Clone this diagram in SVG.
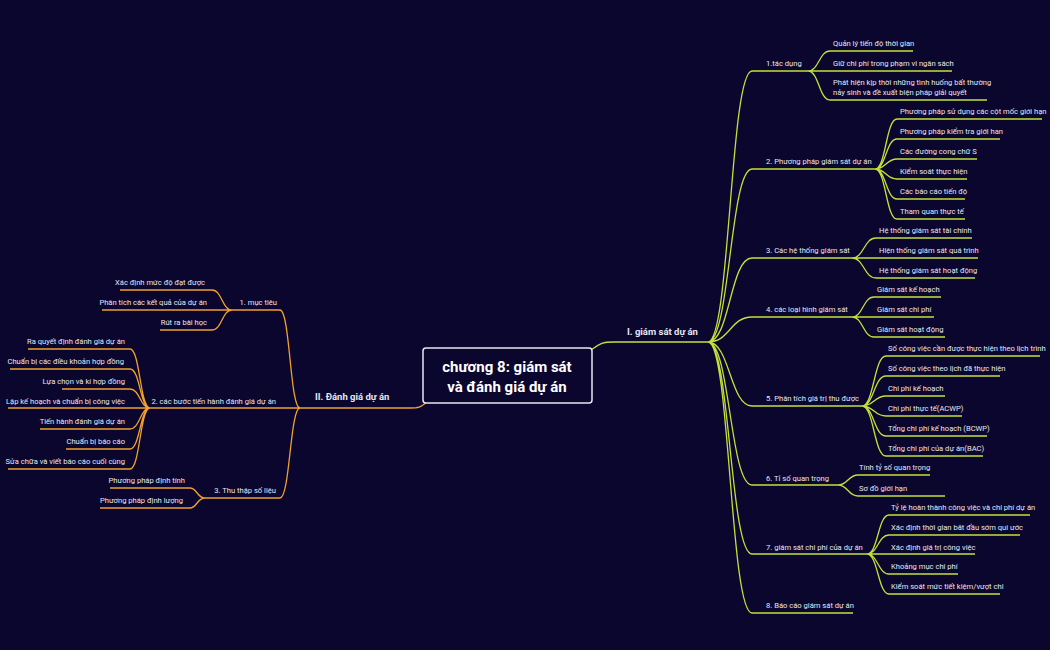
<svg xmlns="http://www.w3.org/2000/svg" width="1050" height="650" viewBox="0 0 1050 650">
<style>
text{font-family:Roboto,"Liberation Sans",sans-serif;fill:#e6e6f0;font-size:7.6px}
.r{fill:none;stroke:#c3e03a;stroke-width:1.3}
.l{fill:none;stroke:#f0a12e;stroke-width:1.3}
.e{text-anchor:end}
.m{font-size:9.5px;font-weight:bold}
</style>
<rect width="1050" height="650" fill="#0b062e"/>
<g id="connectors">
<path class="r" d="M588 352 C600 344 600 342 614 342 H708"/>
<path class="r" d="M708 342 C730 342 730 71 752 71 H808 M708 342 C730 342 730 169 752 169 H875 M708 342 C730 342 730 258 752 258 H852 M708 342 C730 342 730 317 752 317 H852 M708 342 C730 342 730 406 752 406 H862 M708 342 C730 342 730 485 752 485 H838 M708 342 C730 342 730 554 752 554 H867 M708 342 C730 342 730 613 752 613 H853"/>
<path class="r" d="M808 71 C819 71 819 51 830 51 H913 M808 71 H952 M808 71 C819 71 819 100 830 100 H987"/>
<path class="r" d="M875 169 C886 169 886 119 897 119 H1042 M875 169 C886 169 886 139 897 139 H1000 M875 169 C886 169 886 159 897 159 H977 M875 169 C886 169 886 179 897 179 H967 M875 169 C886 169 886 199 897 199 H965 M875 169 C886 169 886 219 897 219 H965"/>
<path class="r" d="M852 258 C864 258 864 238 876 238 H972 M852 258 H978 M852 258 C864 258 864 278 876 278 H975"/>
<path class="r" d="M852 317 C863 317 863 297 874 297 H941 M852 317 H934 M852 317 C863 317 863 337 874 337 H945"/>
<path class="r" d="M862 406 C874 406 874 356 886 356 H1040 M862 406 C874 406 874 376 886 376 H1000 M862 406 C874 406 874 396 886 396 H945 M862 406 C874 406 874 416 886 416 H962 M862 406 C874 406 874 436 886 436 H987 M862 406 C874 406 874 456 886 456 H983"/>
<path class="r" d="M838 485 C848 485 848 475 858 475 H930 M838 485 C848 485 848 496 858 496 H945"/>
<path class="r" d="M867 554 C878 554 878 515 889 515 H1030 M867 554 C878 554 878 535 889 535 H1020 M867 554 H975 M867 554 C878 554 878 574 889 574 H958 M867 554 C878 554 878 594 889 594 H1000"/>
<path class="l" d="M428 401 C420 408 418 408 410 408 H300"/>
<path class="l" d="M300 408 C290 408 290 310 280 310 H232 M300 408 H150 M300 408 C290 408 290 498 280 498 H205"/>
<path class="l" d="M232 310 C222 310 222 290 212 290 H120 M232 310 H102 M232 310 C222 310 222 330 212 330 H160"/>
<path class="l" d="M150 408 C140 408 140 349 130 349 H28 M150 408 C140 408 140 369 130 369 H10 M150 408 C140 408 140 389 130 389 H62 M150 408 H8 M150 408 C140 408 140 429 130 429 H40 M150 408 C140 408 140 449 130 449 H66 M150 408 C140 408 140 469 130 469 H8"/>
<path class="l" d="M205 498 C197 498 197 488 190 488 H110 M205 498 C197 498 197 508 190 508 H100"/>
</g>
<g id="center"><rect x="423" y="348" width="169" height="55" rx="3" fill="#0b062e" stroke="#e8e8f0" stroke-width="1.5"/>
<text x="507" y="372" text-anchor="middle" style="font-size:15px;font-weight:bold;fill:#fff">chương 8: giám sát</text>
<text x="507" y="392" text-anchor="middle" style="font-size:15px;font-weight:bold;fill:#fff">và đánh giá dự án</text></g>
<g id="n-I"><text class="m" x="627" y="335">I. giám sát dự án</text></g>
<g id="n-II"><text class="m" x="315" y="400">II. Đánh giá dự án</text></g>
<g id="right">
<text x="766" y="66">1.tác dụng</text>
<text x="833" y="46">Quản lý tiến độ thời gian</text>
<text x="833" y="66">Giữ chi phí trong phạm vi ngân sách</text>
<text x="833" y="85">Phát hiện kịp thời những tình huống bất thường</text>
<text x="833" y="95">nảy sinh và đề xuất biện pháp giải quyết</text>
<text x="766" y="164">2. Phương pháp giám sát dự án</text>
<text x="900" y="114">Phương pháp sử dụng các cột mốc giới hạn</text>
<text x="900" y="134">Phương pháp kiểm tra giới han</text>
<text x="900" y="154">Các đường cong chữ S</text>
<text x="900" y="174">Kiểm soát thực hiện</text>
<text x="900" y="194">Các báo cáo tiến độ</text>
<text x="900" y="214">Tham quan thực tế</text>
<text x="766" y="253">3. Các hệ thống giám sát</text>
<text x="879" y="233">Hệ thống giám sát tài chính</text>
<text x="879" y="253">Hiện thống giám sát quá trình</text>
<text x="879" y="273">Hệ thống giám sát hoạt động</text>
<text x="766" y="312">4. các loại hình giám sát</text>
<text x="877" y="292">Giám sát kế hoạch</text>
<text x="877" y="312">Giám sát chi phí</text>
<text x="877" y="332">Giám sát hoạt động</text>
<text x="766" y="401">5. Phân tích giá trị thu được</text>
<text x="888" y="351">Số công việc cần được thực hiện theo lịch trình</text>
<text x="888" y="371">Số công việc theo lịch đã thực hiện</text>
<text x="888" y="391">Chi phí kế hoạch</text>
<text x="888" y="411">Chi phí thực tế(ACWP)</text>
<text x="888" y="431">Tổng chi phí kế hoạch (BCWP)</text>
<text x="888" y="451">Tổng chi phí của dự án(BAC)</text>
<text x="766" y="481">6. Tỉ số quan trọng</text>
<text x="859" y="470">Tính tỷ số quan trọng</text>
<text x="859" y="491">Sơ đồ giới hạn</text>
<text x="766" y="550">7. giám sát chi phí của dự án</text>
<text x="891" y="510">Tỷ lệ hoàn thành công việc và chi phí dự án</text>
<text x="891" y="530">Xác định thời gian bắt đầu sớm qui ước</text>
<text x="891" y="550">Xác định giá trị công việc</text>
<text x="891" y="569">Khoảng mục chi phí</text>
<text x="891" y="589">Kiểm soát mức tiết kiệm/vượt chi</text>
<text x="766" y="608">8. Báo cáo giám sát dự án</text>
</g>
<g id="left">
<text class="e" x="277" y="305">1. mục tiêu</text>
<text class="e" x="205" y="285">Xác định mức độ đạt được</text>
<text class="e" x="207" y="305">Phân tích các kết quả của dự án</text>
<text class="e" x="207" y="325">Rút ra bài học</text>
<text class="e" x="276" y="404">2. các bước tiến hành đánh giá dự án</text>
<text class="e" x="125" y="344">Ra quyết định đánh giá dự án</text>
<text class="e" x="124" y="364">Chuẩn bị các điều khoản hợp đồng</text>
<text class="e" x="125" y="384">Lựa chọn và kí hợp đồng</text>
<text class="e" x="125" y="404">Lập kế hoạch và chuẩn bị công việc</text>
<text class="e" x="125" y="424">Tiến hành đánh giá dự án</text>
<text class="e" x="125" y="444">Chuẩn bị báo cáo</text>
<text class="e" x="125" y="464">Sửa chữa và viết báo cáo cuối cùng</text>
<text class="e" x="276" y="493">3. Thu thập số liệu</text>
<text class="e" x="185" y="483">Phương pháp định tính</text>
<text class="e" x="183" y="503">Phương pháp định lượng</text>
</g>
</svg>
